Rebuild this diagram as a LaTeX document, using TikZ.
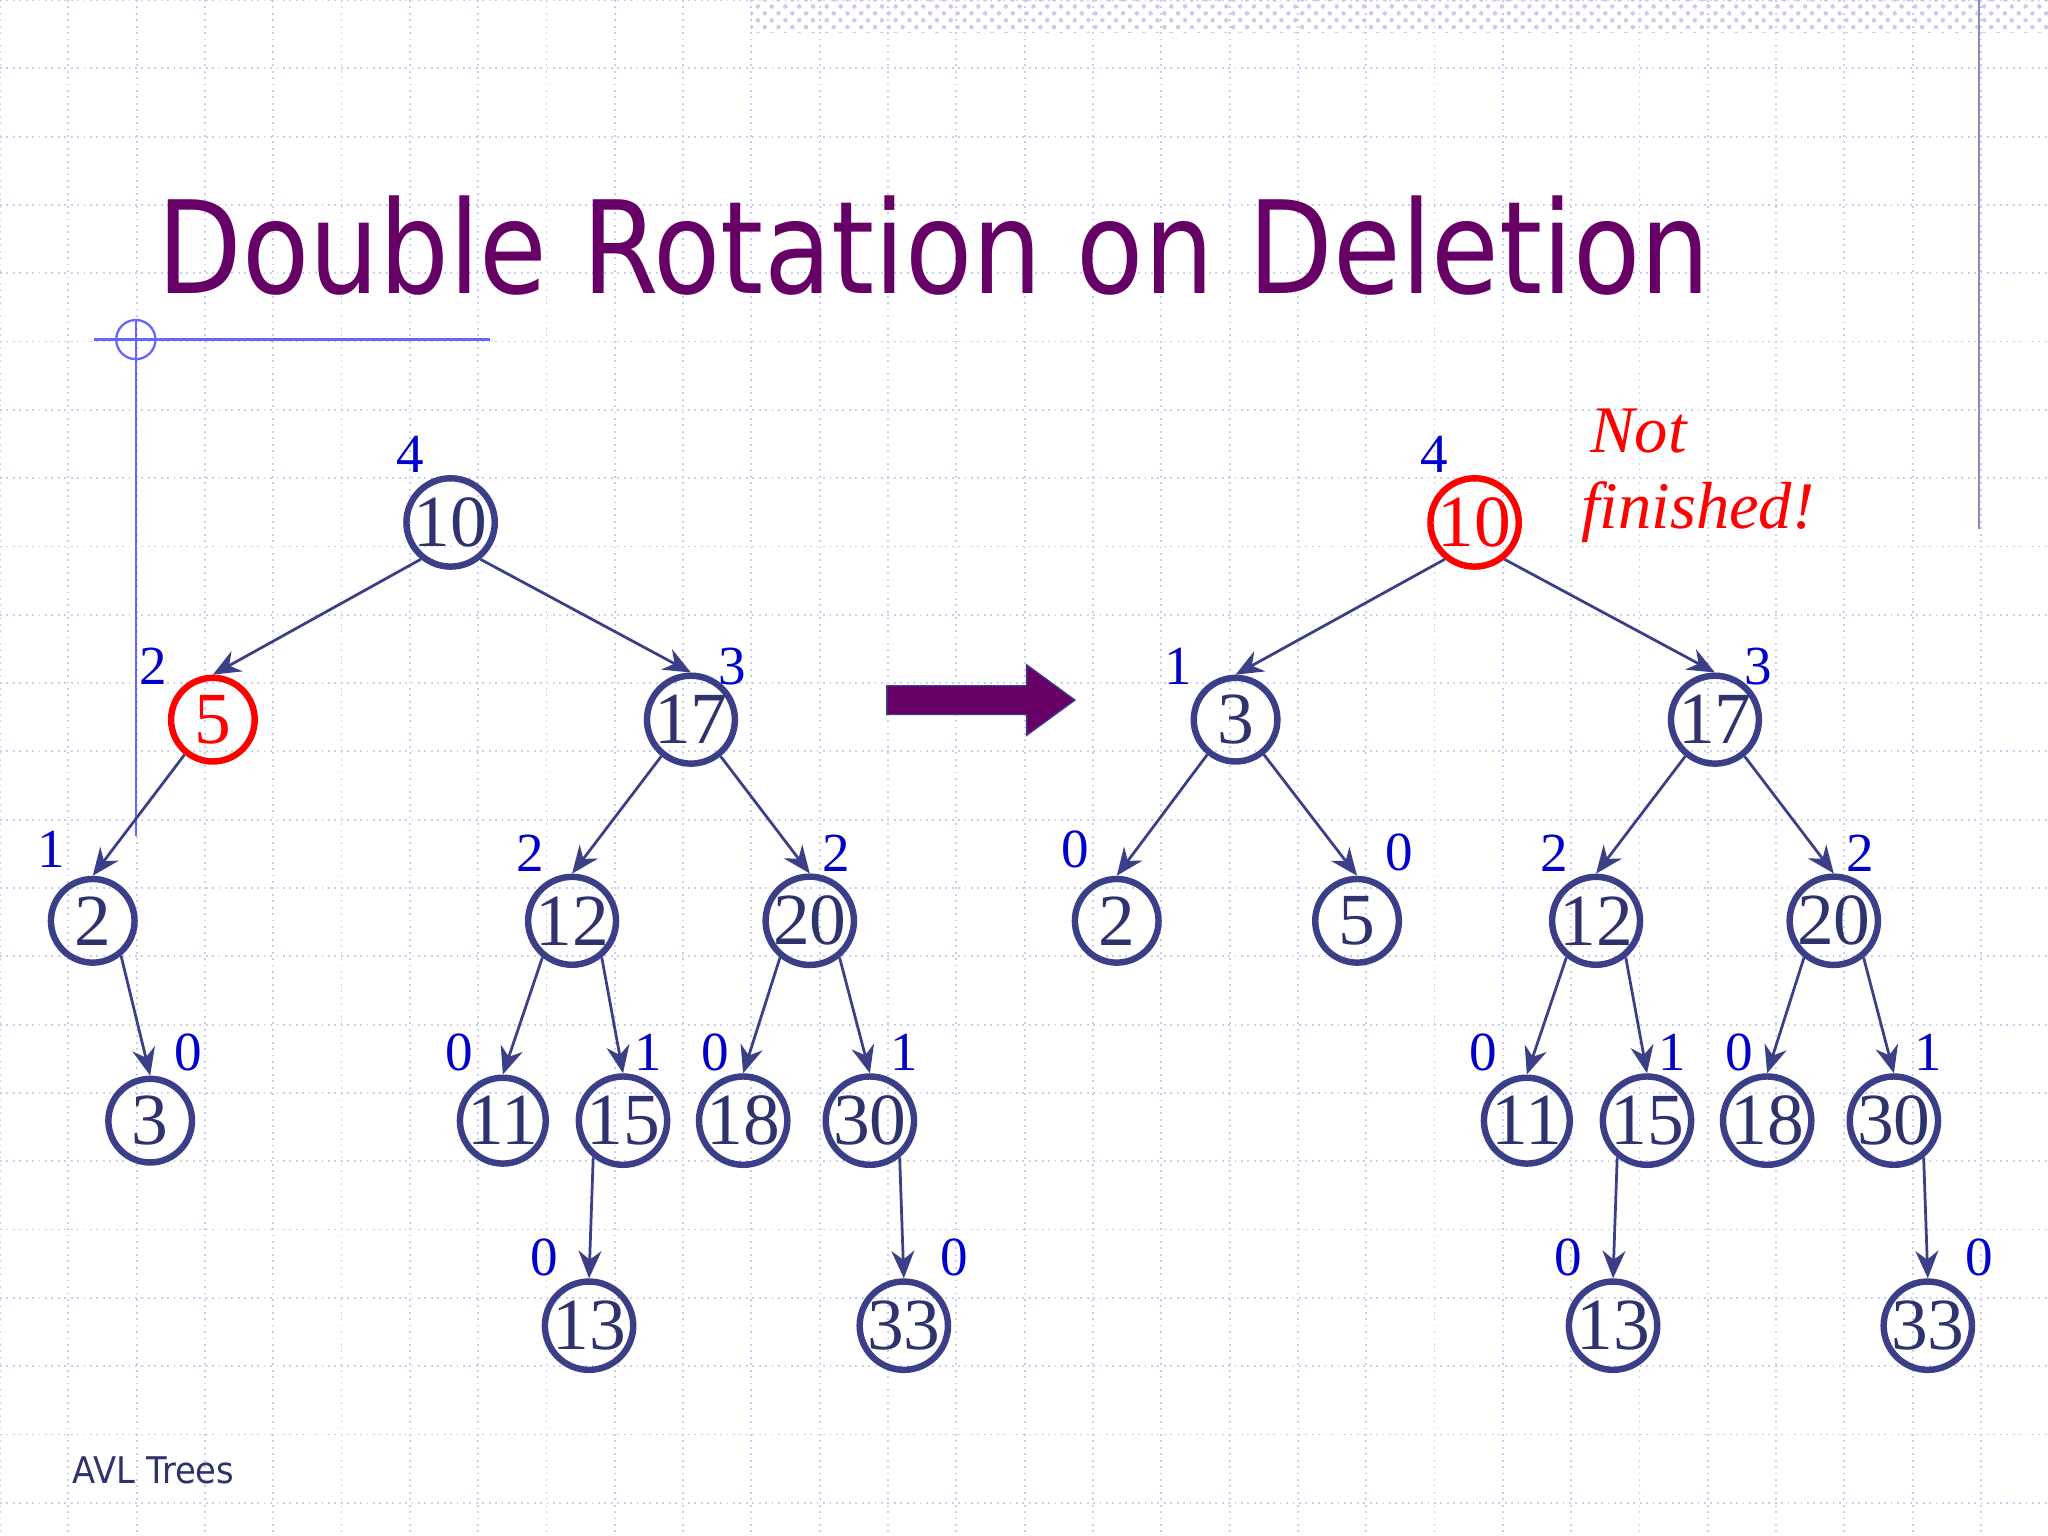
\documentclass[tikz,border=0pt]{standalone}
\usepackage{fontspec}
\setmainfont{Liberation Serif}
\newfontfamily\titlefont{DejaVu Sans}
\usetikzlibrary{arrows.meta,patterns}
\definecolor{nodeblue}{HTML}{3A3F88}
\definecolor{lblblue}{HTML}{0000CC}
\definecolor{ttl}{HTML}{660066}
\definecolor{gridc}{HTML}{C8CCF0}
\tikzset{
 tn/.style={circle,draw=nodeblue,line width=1.4pt,minimum size=0.64cm,inner sep=0pt,font=\fontsize{16}{16}\selectfont,text=nodeblue!80!black},
 rn/.style={tn,draw=red,text=red},
 ed/.style={draw=nodeblue,line width=0.6pt,-{Stealth[length=6pt,width=5pt]}},
 lb/.style={text=lblblue,font=\fontsize{12}{12}\selectfont,inner sep=0pt}
}
\begin{document}
\begin{tikzpicture}[x=0.01cm,y=-0.01cm]
\useasboundingbox (0,0) rectangle (1568,1176);
\fill[white] (0,0) rectangle (1568,1176);
\foreach \i in {0,...,30} {\draw[gridc,densely dotted,line width=0.4pt] (\i*52.3,0) -- (\i*52.3,1176);}
\foreach \i in {0,...,23} {\draw[gridc,densely dotted,line width=0.4pt] (0,\i*52.3) -- (1568,\i*52.3);}
\fill[pattern=crosshatch dots,pattern color=gridc] (575,0) rectangle (1568,25);
\draw[nodeblue!60,line width=0.5pt] (1515,0) -- (1515,405);
\draw[blue!60,line width=0.5pt] (72,260) -- (375,260);
\draw[blue!60,line width=0.5pt] (104,245) -- (104,640);
\draw[blue!60,line width=0.5pt] (104,260) circle (15);
\node[anchor=west,text=ttl,inner sep=0pt,xscale=0.855,font=\titlefont\fontsize{28}{28}\selectfont] (title) at (120,188) {Double Rotation on Deletion};
\node[anchor=west,text=nodeblue!80!black,inner sep=0pt,xscale=0.92,font=\titlefont\fontsize{8}{8}\selectfont] (foot) at (55,1126) {AVL Trees};
% left tree
\node[tn] (a10) at (345,400) {10};
\node[rn] (a5) at (163,551) {5};
\node[tn] (a17) at (529,551) {17};
\node[tn] (a2) at (71,705) {2};
\node[tn] (a12) at (438,705) {12};
\node[tn] (a20) at (620,705) {20};
\node[tn] (a3) at (115,858) {3};
\node[tn] (a11) at (385,858) {11};
\node[tn] (a15) at (477,858) {15};
\node[tn] (a18) at (569,858) {18};
\node[tn] (a30) at (666,858) {30};
\node[tn] (a13) at (451,1015) {13};
\node[tn] (a33) at (692,1015) {33};
\foreach \p/\c in {a10/a5,a5/a2,a17/a12,a12/a11,a20/a18,a15/a13} \draw[ed] (\p.-129) -- (\c.north);
\foreach \p/\c in {a10/a17,a2/a3,a17/a20,a12/a15,a20/a30,a30/a33} \draw[ed] (\p.-51) -- (\c.north);
\node[lb] at (314,348) {4};
\node[lb] at (117,510) {2};
\node[lb] at (561,510) {3};
\node[lb] at (39,650) {1};
\node[lb] at (406,653) {2};
\node[lb] at (640,653) {2};
\node[lb] at (144,806) {0};
\node[lb] at (352,806) {0};
\node[lb] at (496,806) {1};
\node[lb] at (548,806) {0};
\node[lb] at (692,806) {1};
\node[lb] at (417,963) {0};
\node[lb] at (731,963) {0};
% arrow
\fill[ttl,draw=nodeblue,line width=0.3pt] (679,525) -- (786,525) -- (786,509) -- (823,536) -- (786,563) -- (786,547) -- (679,547) -- cycle;
% right tree
\node[rn] (b10) at (1129,400) {10};
\node[tn] (b3) at (946,551) {3};
\node[tn] (b17) at (1313,551) {17};
\node[tn] (b2) at (855,705) {2};
\node[tn] (b5) at (1039,705) {5};
\node[tn] (b12) at (1222,705) {12};
\node[tn] (b20) at (1404,705) {20};
\node[tn] (b11) at (1169,858) {11};
\node[tn] (b15) at (1261,858) {15};
\node[tn] (b18) at (1353,858) {18};
\node[tn] (b30) at (1450,858) {30};
\node[tn] (b13) at (1235,1015) {13};
\node[tn] (b33) at (1476,1015) {33};
\foreach \p/\c in {b10/b3,b3/b2,b17/b12,b12/b11,b20/b18,b15/b13} \draw[ed] (\p.-129) -- (\c.north);
\foreach \p/\c in {b10/b17,b3/b5,b17/b20,b12/b15,b20/b30,b30/b33} \draw[ed] (\p.-51) -- (\c.north);
\node[lb] at (1098,348) {4};
\node[lb] at (902,510) {1};
\node[lb] at (1346,510) {3};
\node[lb] at (823,650) {0};
\node[lb] at (1071,653) {0};
\node[lb] at (1190,653) {2};
\node[lb] at (1424,653) {2};
\node[lb] at (1136,806) {0};
\node[lb] at (1280,806) {1};
\node[lb] at (1332,806) {0};
\node[lb] at (1476,806) {1};
\node[lb] at (1201,963) {0};
\node[lb] at (1515,963) {0};
\node[anchor=west,text=red,inner sep=0pt,font=\itshape\fontsize{14.5}{14.5}\selectfont] (nf1) at (1217,330) {Not};
\node[anchor=west,text=red,inner sep=0pt,font=\itshape\fontsize{14.5}{14.5}\selectfont] (nf2) at (1210,392) {finished!};
\end{tikzpicture}
\end{document}
